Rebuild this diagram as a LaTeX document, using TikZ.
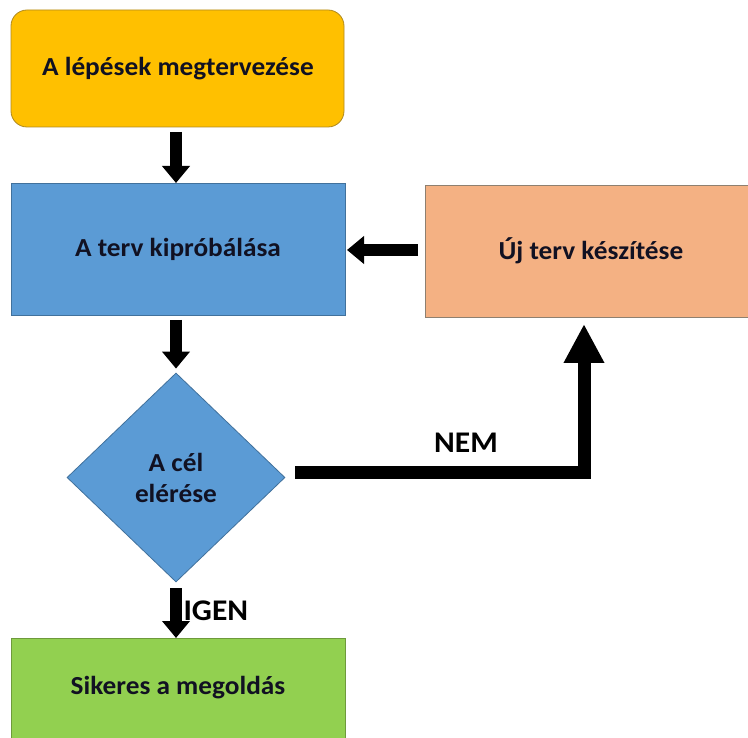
\documentclass[tikz,border=0pt]{standalone}
\usepackage{fontspec}
\setmainfont{Carlito}[FakeStretch=1.05]
\usetikzlibrary{arrows.meta,shapes.geometric}
\definecolor{cYellow}{HTML}{FFC000}
\definecolor{cYellowB}{HTML}{B08A1E}
\definecolor{cBlue}{HTML}{5B9BD5}
\definecolor{cBlueB}{HTML}{41719C}
\definecolor{cOrange}{HTML}{F4B183}
\definecolor{cOrangeB}{HTML}{8E8070}
\definecolor{cGreen}{HTML}{92D050}
\definecolor{cGreenB}{HTML}{6E9A3C}
\definecolor{cText}{HTML}{111122}
\tikzset{
  x=1pt, y=-1pt,
  boxtext/.style={font=\bfseries\fontsize{26}{31}\selectfont, text=cText, align=center},
  flowarrow/.style={line width=12pt, draw=black, -{Triangle[width=27pt,length=17pt]}},
  bigarrow/.style={line width=13pt, draw=black, -{Triangle[width=38pt,length=39pt]}},
  lbl/.style={font=\bfseries\fontsize{30}{36}\selectfont, text=black}
}
\begin{document}
\begin{tikzpicture}
\useasboundingbox (0,0) rectangle (748,738);
\fill[white] (0,0) rectangle (748,738);
% boxes
\draw[fill=cYellow, draw=cYellowB, line width=0.8pt, rounded corners=16pt] (11,10) rectangle (344,127);
\node[boxtext] (plan) at (178,68.5) {A lépések megtervezése};
\draw[fill=cBlue, draw=cBlueB, line width=0.8pt] (11,183) rectangle (345,315);
\node[boxtext] (try) at (178,249) {A terv kipróbálása};
\draw[fill=cOrange, draw=cOrangeB, line width=0.8pt] (425,185) rectangle (752,317);
\node[boxtext] (new) at (591,251) {Új terv készítése};
\draw[fill=cGreen, draw=cGreenB, line width=0.8pt] (11,638) rectangle (345,742);
\node[boxtext] (ok) at (178,688) {Sikeres a megoldás};
\node[diamond, fill=cBlue, draw=cBlueB, line width=0.8pt, inner sep=0pt,
      minimum width=218pt, minimum height=209pt, boxtext] (goal) at (176,477.5) {A cél\\elérése};
% coordinates for connectors
\coordinate (planS) at (176,127);
\coordinate (tryN) at (176,183);
\coordinate (tryS) at (176,315);
\coordinate (tryE) at (345,250);
\coordinate (newW) at (425,250);
\coordinate (newS) at (584,317);
\coordinate (okN) at (176,638);
% arrows
\draw[flowarrow, shorten <=5pt] (planS) -- (tryN);
\draw[flowarrow, shorten <=5pt, shorten >=4pt] (tryS) -- (goal.north);
\draw[flowarrow, shorten <=6pt] (goal.south) -- (okN);
\draw[flowarrow, shorten <=7pt, shorten >=2pt] (newW) -- (tryE);
\draw[bigarrow, shorten >=7pt] ([xshift=10pt,yshift=5pt]goal.east) -| (newS);
\node[lbl, anchor=west] (igen) at (180,611) {IGEN};
\node[lbl] (nem) at (466,443) {NEM};
\end{tikzpicture}
\end{document}
